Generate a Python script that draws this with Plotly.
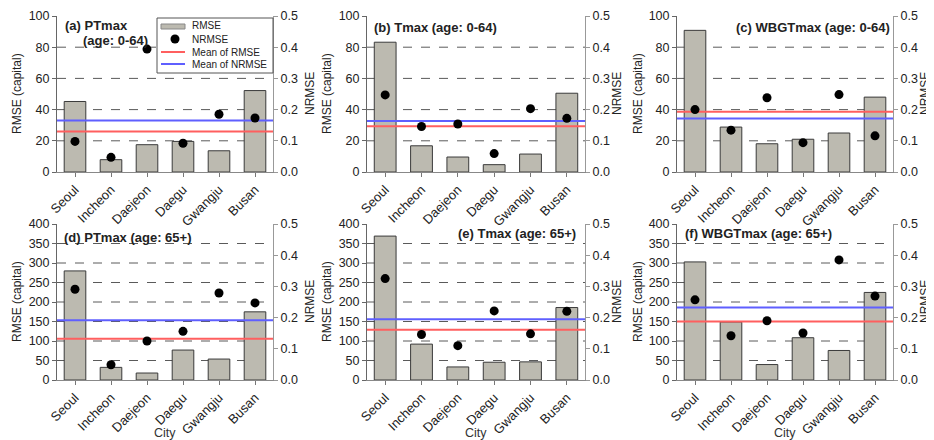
import plotly.graph_objects as go

# ---------------- data ----------------
cities = ["Seoul", "Incheon", "Daejeon", "Daegu", "Gwangju", "Busan"]

rmse_a = [45.2, 7.9, 17.5, 19.6, 13.6, 52.2]
nrmse_a = [0.098, 0.047, 0.394, 0.092, 0.185, 0.173]
rmse_b = [83.2, 16.8, 9.6, 4.7, 11.5, 50.5]
nrmse_b = [0.247, 0.146, 0.154, 0.059, 0.203, 0.172]
rmse_c = [90.8, 28.8, 18.1, 21.0, 25.0, 48.0]
nrmse_c = [0.200, 0.134, 0.238, 0.094, 0.248, 0.116]
rmse_d = [279.7, 32.4, 17.9, 76.8, 53.7, 174.8]
nrmse_d = [0.291, 0.049, 0.125, 0.156, 0.279, 0.247]
rmse_e = [369.0, 92.0, 33.5, 45.6, 46.5, 185.8]
nrmse_e = [0.325, 0.146, 0.110, 0.2215, 0.148, 0.220]
rmse_f = [302.8, 148.8, 39.6, 108.4, 75.7, 224.5]
nrmse_f = [0.257, 0.142, 0.190, 0.1505, 0.385, 0.269]

titles = ["(a) PTmax", "(b) Tmax (age: 0-64)", "(c) WBGTmax (age: 0-64)",
          "(d) PTmax (age: 65+)", "(e) Tmax (age: 65+)", "(f) WBGTmax (age: 65+)"]
subtitle_a = "(age: 0-64)"

left_ticks_top = [0, 20, 40, 60, 80, 100]
left_ticks_bottom = [0, 50, 100, 150, 200, 250, 300, 350, 400]
right_ticks = [0.0, 0.1, 0.2, 0.3, 0.4, 0.5]

legend_names = ["RMSE", "NRMSE", "Mean of RMSE", "Mean of NRMSE"]

# ---------------- style / layout ----------------
OFF = 8                      # page body margin in the browser
W, H = 934 - OFF, 440 - OFF  # figure size so it fills the window
FONT = "Liberation Sans, Arial, sans-serif"
TXT = "#222222"
BAR_FILL = "#bcbab0"
BAR_LINE = "#3a3a3a"
RED = "rgb(255,95,95)"
BLUE = "rgb(95,95,255)"
GRID = "#5a5a5a"

def px(x):
    return (x - OFF) / W

def py(y):
    return 1 - (y - OFF) / H

xdoms = [(57, 273), (367, 585), (677, 893)]
ydoms = [(16, 172), (224, 380)]

panels = [
    (rmse_a, nrmse_a), (rmse_b, nrmse_b), (rmse_c, nrmse_c),
    (rmse_d, nrmse_d), (rmse_e, nrmse_e), (rmse_f, nrmse_f),
]

xpos = list(range(len(cities)))

fig = go.Figure()
layout = dict(
    width=W, height=H, autosize=False,
    margin=dict(l=0, r=0, t=0, b=0, pad=0),
    paper_bgcolor="white", plot_bgcolor="white",
    font=dict(family=FONT, size=12, color=TXT),
    showlegend=False,
    shapes=[], annotations=[],
)

for i, (rm, nr) in enumerate(panels):
    row, col = divmod(i, 3)
    xa = "x" if i == 0 else f"x{i+1}"
    yl = "y" if i == 0 else f"y{2*i+1}"
    yr = f"y{2*i+2}"
    lticks = left_ticks_top if row == 0 else left_ticks_bottom
    lmax = lticks[-1]

    fig.add_trace(go.Bar(
        x=xpos, y=rm, width=0.6, name=legend_names[0],
        marker=dict(color=BAR_FILL, line=dict(color=BAR_LINE, width=1)),
        xaxis=xa, yaxis=yl, hoverinfo="x+y"))
    mean_rm = sum(rm) / len(rm)
    mean_nr = sum(nr) / len(nr)
    fig.add_trace(go.Scatter(
        x=[-0.5, len(cities) - 0.5], y=[mean_rm, mean_rm], mode="lines",
        name=legend_names[2], line=dict(color=RED, width=2),
        xaxis=xa, yaxis=yl))
    fig.add_trace(go.Scatter(
        x=[-0.5, len(cities) - 0.5], y=[mean_nr, mean_nr], mode="lines",
        name=legend_names[3], line=dict(color=BLUE, width=2),
        xaxis=xa, yaxis=yr))
    fig.add_trace(go.Scatter(
        x=xpos, y=nr, mode="markers", name=legend_names[1],
        marker=dict(color="black", size=9),
        xaxis=xa, yaxis=yr))

    x0, x1 = xdoms[col]
    y0, y1 = ydoms[row]
    xkey = "xaxis" if i == 0 else f"xaxis{i+1}"
    ylkey = "yaxis" if i == 0 else f"yaxis{2*i+1}"
    yrkey = f"yaxis{2*i+2}"
    layout[xkey] = dict(
        domain=[px(x0), px(x1)], anchor=yl, range=[-0.5, len(cities) - 0.5],
        tickmode="array", tickvals=xpos, ticktext=cities, tickangle=-45,
        ticks="outside", ticklen=4, tickcolor="#777", showline=True,
        linecolor="#888", linewidth=1, showgrid=False, zeroline=False,
        automargin=False,
        tickfont=dict(size=13, color=TXT), fixedrange=True)
    layout[ylkey] = dict(
        domain=[py(y1), py(y0)], anchor=xa, range=[0, lmax],
        tickmode="array", tickvals=lticks, ticks="outside", ticklen=4,
        tickcolor="#666", showline=True, linecolor="#666", linewidth=1,
        showgrid=False, zeroline=False, automargin=False,
        tickfont=dict(size=12.5, color=TXT), fixedrange=True)
    layout[yrkey] = dict(
        domain=[py(y1), py(y0)], anchor=xa, overlaying=yl, side="right",
        range=[0, right_ticks[-1]], tickmode="array", tickvals=right_ticks,
        tickformat=".1f", ticks="outside", ticklen=4, tickcolor="#999",
        showline=True, linecolor="#999", linewidth=1, showgrid=False,
        zeroline=False, automargin=False,
        tickfont=dict(size=12.5, color=TXT), fixedrange=True)

    # dashed grid lines at interior left-axis ticks
    for t in lticks[1:-1]:
        layout["shapes"].append(dict(
            type="line", xref=f"{xa} domain", yref=yl, x0=0, x1=1, y0=t, y1=t,
            line=dict(color=GRID, width=1, dash="dash"), layer="below"))

    # axis titles
    lx = [17, 327, 638][col]
    rx = [310, 617, 925][col]
    yc = (y0 + y1) / 2
    layout["annotations"].append(dict(
        text="RMSE (capital)", x=px(lx), y=py(yc), xref="paper", yref="paper",
        textangle=-90, showarrow=False, xanchor="center", yanchor="middle",
        font=dict(size=12, color=TXT)))
    layout["annotations"].append(dict(
        text="NRMSE", x=px(rx), y=py(yc), xref="paper", yref="paper",
        textangle=-90, showarrow=False, xanchor="center", yanchor="middle",
        font=dict(size=12, color=TXT)))
    if row == 1:
        layout["annotations"].append(dict(
            text="City", x=px((x0 + x1) / 2), y=py(433), xref="paper",
            yref="paper", showarrow=False, xanchor="center", yanchor="middle",
            font=dict(size=12.5, color="#333")))

# panel titles
title_pos = [
    (63, 25, "left"), (372, 28, "left"), (892, 27, "right"),
    (62, 237, "left"), (578, 233, "right"), (683, 233, "left"),
]
for t, (tx, ty, anc) in zip(titles, title_pos):
    layout["annotations"].append(dict(
        text=f"<b>{t}</b>", x=px(tx), y=py(ty), xref="paper", yref="paper",
        showarrow=False, xanchor=anc, yanchor="middle",
        font=dict(size=13, color=TXT)))
layout["annotations"].append(dict(
    text=f"<b>{subtitle_a}</b>", x=px(81), y=py(41), xref="paper",
    yref="paper", showarrow=False, xanchor="left", yanchor="middle",
    font=dict(size=13, color=TXT)))

# legend (panel a)
layout["shapes"].append(dict(
    type="rect", xref="paper", yref="paper", x0=px(157), x1=px(273),
    y0=py(73), y1=py(18), line=dict(color="#555", width=1),
    fillcolor="white", layer="above"))
layout["shapes"].append(dict(
    type="rect", xref="paper", yref="paper", x0=px(161), x1=px(185),
    y0=py(29), y1=py(24), line=dict(color="#888", width=1),
    fillcolor=BAR_FILL, layer="above"))
layout["shapes"].append(dict(
    type="circle", xref="paper", yref="paper", x0=px(170.5), x1=px(179.5),
    y0=py(43.5), y1=py(34.5), line=dict(color="black", width=0),
    fillcolor="black", layer="above"))
layout["shapes"].append(dict(
    type="line", xref="paper", yref="paper", x0=px(161), x1=px(185),
    y0=py(52), y1=py(52), line=dict(color=RED, width=2), layer="above"))
layout["shapes"].append(dict(
    type="line", xref="paper", yref="paper", x0=px(161), x1=px(185),
    y0=py(64), y1=py(64), line=dict(color=BLUE, width=2), layer="above"))
for name, ly in zip(legend_names, [26, 39, 52, 64]):
    layout["annotations"].append(dict(
        text=name, x=px(190), y=py(ly), xref="paper", yref="paper",
        showarrow=False, xanchor="left", yanchor="middle",
        font=dict(size=10, color=TXT)))

fig.update_layout(**layout)
fig.write_html("out.html")
